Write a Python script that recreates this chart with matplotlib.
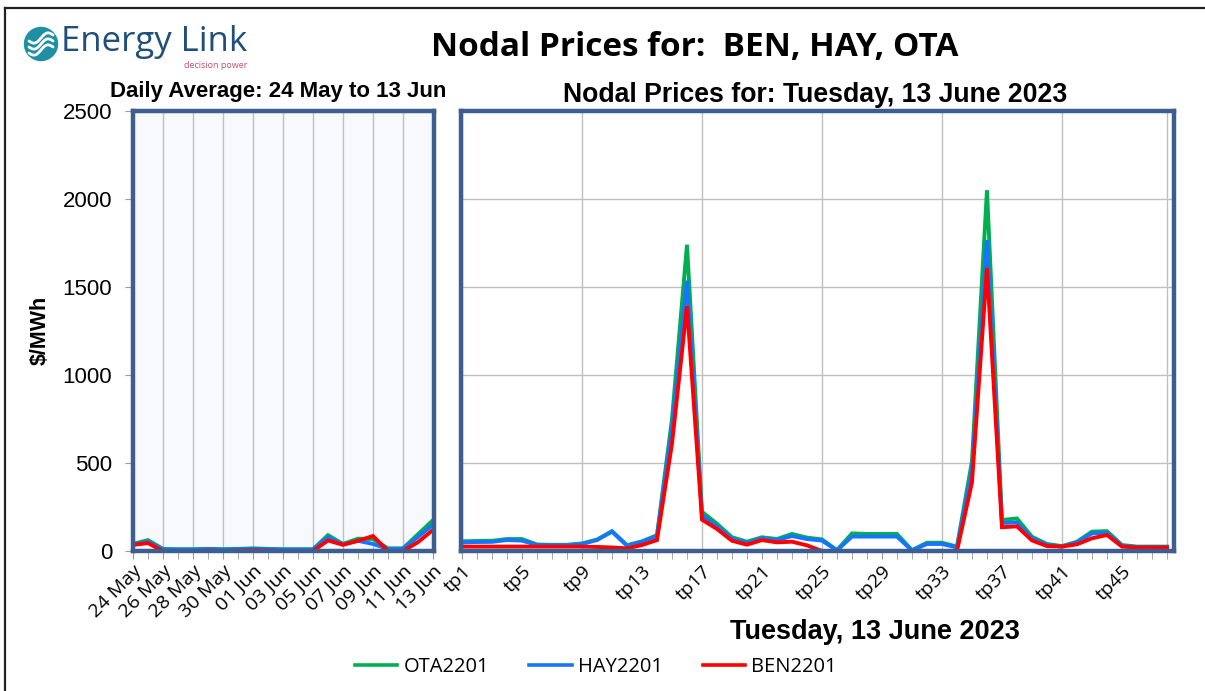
import matplotlib
matplotlib.use("Agg")
import matplotlib.pyplot as plt
import numpy as np
from matplotlib.patches import Circle
from matplotlib.lines import Line2D

# ---------------- data ----------------
days = ["24 May", "25 May", "26 May", "27 May", "28 May", "29 May", "30 May",
        "31 May", "01 Jun", "02 Jun", "03 Jun", "04 Jun", "05 Jun", "06 Jun",
        "07 Jun", "08 Jun", "09 Jun", "10 Jun", "11 Jun", "12 Jun", "13 Jun"]
daily_ota = [40, 62, 12, 10, 10, 12, 10, 12, 15, 12, 10, 10, 10, 90, 40, 70, 68, 15, 15, 95, 175]
daily_hay = [38, 52, 8, 8, 8, 10, 8, 10, 12, 10, 8, 8, 8, 78, 38, 58, 40, 12, 12, 80, 150]
daily_ben = [35, 45, 0, 0, 0, 2, 0, 2, 5, 2, 0, 0, 0, 60, 35, 58, 85, 0, 0, 50, 120]

tps = ["tp%d" % i for i in range(1, 49)]
tp_ota = [55, 57, 58, 68, 68, 37, 35, 35, 43, 65, 113, 33, 55, 90, 750, 1740, 223, 155, 78, 53,
          78, 68, 97, 76, 66, 5, 100, 97, 97, 97, 5, 47, 47, 25, 510, 2050, 176, 185, 81, 40,
          28, 53, 110, 113, 34, 25, 25, 25]
tp_hay = [49, 51, 52, 62, 59, 34, 34, 34, 40, 62, 110, 30, 52, 85, 700, 1536, 204, 140, 70, 45,
          72, 62, 85, 68, 59, 3, 82, 82, 82, 82, 3, 40, 40, 20, 460, 1767, 159, 162, 72, 35,
          25, 48, 100, 103, 30, 22, 22, 22]
tp_ben = [25, 25, 25, 25, 25, 25, 25, 25, 25, 23, 20, 15, 34, 62, 610, 1392, 178, 125, 58, 36,
          62, 49, 53, 32, 0, 0, 0, 0, 0, 0, 0, 0, 0, 0, 390, 1608, 135, 140, 60, 28,
          25, 38, 72, 91, 25, 20, 20, 20]

series_names = ["OTA2201", "HAY2201", "BEN2201"]
series_colors = ["#00B050", "#1874FF", "#FF0000"]

# ---------------- figure ----------------
W, H = 1205, 691
fig = plt.figure(figsize=(W / 100, H / 100), dpi=100)
fig.patch.set_facecolor("white")

def fx(px):
    return px / W

def fy(py):
    return 1 - py / H

border_col = "#3D5E8E"
grid_col = "#BFBFBF"
sans = ["Liberation Sans", "DejaVu Sans"]
calib = ["Open Sans", "DejaVu Sans"]

# outer frame (top and left only visible)
fig.add_artist(Line2D([fx(5), fx(1205)], [fy(8), fy(8)], color="#222222", lw=1.6))
fig.add_artist(Line2D([fx(5), fx(5)], [fy(8), fy(691)], color="#222222", lw=1.6))

# ---------------- left panel ----------------
axL = fig.add_axes([fx(133), fy(551), fx(434 - 133), fy(111) - fy(551)])
axL.set_facecolor("#F7F9FC")
xd = np.arange(len(days))
for vals, c in zip([daily_ota, daily_hay, daily_ben], series_colors):
    axL.plot(xd, vals, color=c, lw=2.8, solid_joinstyle="miter")
axL.set_xlim(0, 20.07)
axL.set_ylim(0, 2500)
axL.set_xticks(xd[::2])
axL.set_xticklabels(days[::2], rotation=45, ha="right", rotation_mode="anchor",
                    fontsize=14, family=calib)
axL.set_xticks(xd, minor=True)
axL.set_yticks(np.arange(0, 2501, 500))
axL.set_yticklabels([str(v) for v in range(0, 2501, 500)], fontsize=16, family=sans)
axL.tick_params(axis="x", which="both", length=6, color="#999999", direction="out", pad=2)
axL.tick_params(axis="y", length=6, color="#999999", pad=9)
axL.grid(axis="x", which="major", color=grid_col, lw=1.0)
axL.set_axisbelow(True)
for s in axL.spines.values():
    s.set_color(border_col)
    s.set_linewidth(3.2)

# ---------------- right panel ----------------
axR = fig.add_axes([fx(461), fy(551), fx(1174 - 461), fy(111) - fy(551)])
axR.set_facecolor("white")
xt = np.arange(1, len(tps) + 1)
for vals, c, n in zip([tp_ota, tp_hay, tp_ben], series_colors, series_names):
    axR.plot(xt, vals, color=c, lw=2.8, label=n, solid_joinstyle="miter")
axR.set_xlim(0.933, 48.47)
axR.set_ylim(0, 2500)
axR.set_xticks(xt[::4])
axR.set_xticklabels(tps[::4], rotation=45, ha="right", rotation_mode="anchor",
                    fontsize=14, family=calib)
axR.set_xticks(xt, minor=True)
axR.set_yticks(np.arange(0, 2501, 500))
axR.tick_params(axis="y", left=False, labelleft=False)
axR.tick_params(axis="x", which="both", length=6, color="#999999", direction="out", pad=2)
axR.grid(axis="y", color=grid_col, lw=1.0)
for gx in [1, 9, 17, 25, 33, 41, 48]:
    axR.axvline(gx, color=grid_col, lw=1.0, zorder=0.5)
axR.set_axisbelow(True)
for s in axR.spines.values():
    s.set_color(border_col)
    s.set_linewidth(3.2)

# ---------------- texts ----------------
fig.text(fx(695), fy(47), "Nodal Prices for:  BEN, HAY, OTA", ha="center", va="center",
         fontsize=24, fontweight="bold", family=calib)
fig.text(fx(278), fy(91), "Daily Average: 24 May to 13 Jun", ha="center", va="center",
         fontsize=16, fontweight="bold", family=sans)
fig.text(fx(815), fy(95), "Nodal Prices for: Tuesday, 13 June 2023", ha="center", va="center",
         fontsize=19.2, fontweight="bold", family=sans)
fig.text(fx(40), fy(330), "$/MWh", ha="center", va="center", rotation=90,
         fontsize=15.5, fontweight="bold", family=sans)
fig.text(fx(875), fy(632), "Tuesday, 13 June 2023", ha="center", va="center",
         fontsize=19.5, fontweight="bold", family=sans)

# legend
handles = [Line2D([], [], color=c, lw=2.6) for c in series_colors]
fig.legend(handles, series_names, loc="center", bbox_to_anchor=(fx(596), fy(667)),
           ncol=3, frameon=False, prop={"family": calib, "size": 14.5},
           handlelength=2.1, columnspacing=2.0, handletextpad=0.3)

# ---------------- logo ----------------
logo_ax = fig.add_axes([fx(20), fy(72), fx(240), fy(20) - fy(72)])
logo_ax.set_xlim(0, 240)
logo_ax.set_ylim(52, 0)
logo_ax.set_aspect("equal")
logo_ax.axis("off")
logo_ax.add_patch(Circle((21, 24), 16.5, color="#1F8FA3"))
tt = np.linspace(-1, 1, 50)
for off in [-6, 0, 6]:
    xs = 21 + tt * 12
    ys = 24 + off - 3.5 * np.sin(tt * np.pi) + tt * -3
    logo_ax.plot(xs, ys, color="white", lw=2.0, solid_capstyle="round")
logo_ax.text(41, 22, "Energy Link", fontsize=25, color="#1F4F7A", family=calib,
             ha="left", va="center")
logo_ax.text(227, 45, "decision power", fontsize=6.5, color="#C05070", family=calib,
             ha="right", va="center")

fig.savefig("out.png", dpi=100)
